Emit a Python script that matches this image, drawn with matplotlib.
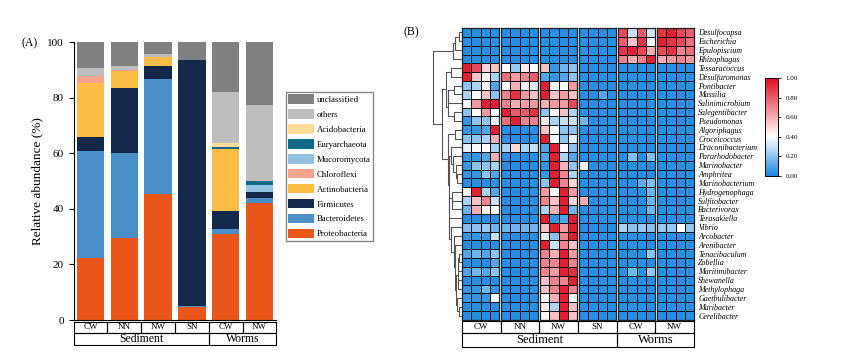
import numpy as np
import matplotlib
matplotlib.use("Agg")
import matplotlib.pyplot as plt
from matplotlib.colors import LinearSegmentedColormap
from matplotlib.patches import Rectangle, Patch

plt.rcParams['font.family'] = ['Liberation Serif', 'DejaVu Serif']

W, H = 857, 356

# ---- panel A: phylum level stacked bars ----
samples = ['CW', 'NN', 'NW', 'SN', 'CW', 'NW']
habitats = ['Sediment', 'Worms']
habitat_span = [4, 2]

phyla = ['Proteobacteria', 'Bacteroidetes', 'Firmicutes', 'Actinobacteria', 'Chloroflexi',
         'Mucoromycota', 'Euryarchaeota', 'Acidobacteria', 'others', 'unclassified']
phylum_colors = ['#e8561a', '#4a8fc7', '#13284a', '#fbbd45', '#f4a48a',
                 '#93c1e2', '#0f6b88', '#fcdb98', '#bebebe', '#808080']

proteobacteria = [22.4, 29.4, 45.3, 4.8, 30.8, 42.0]
bacteroidetes = [38.5, 30.6, 41.3, 0.2, 1.8, 2.0]
firmicutes = [4.9, 23.6, 4.9, 88.4, 6.7, 1.9]
actinobacteria = [19.3, 6.1, 3.0, 0.3, 22.1, 0.3]
chloroflexi = [2.8, 0.3, 0.0, 0.0, 0.0, 0.0]
mucoromycota = [0.0, 0.0, 0.0, 0.0, 0.0, 2.3]
euryarchaeota = [0.0, 0.0, 0.0, 0.0, 0.8, 1.5]
acidobacteria = [0.0, 0.0, 0.0, 0.0, 1.3, 0.0]
others = [2.9, 1.4, 1.3, 0.0, 18.4, 27.2]
unclassified = [9.2, 8.6, 4.2, 6.3, 18.1, 22.7]

phylum_values = [proteobacteria, bacteroidetes, firmicutes, actinobacteria, chloroflexi,
                 mucoromycota, euryarchaeota, acidobacteria, others, unclassified]

# ---- panel B: genus heatmap (row-scaled abundance), 4 replicates per sample ----
genera = ['Desulfocapsa', 'Escherichia', 'Epulopiscium', 'Rhizophagus', 'Tessaracoccus',
          'Desulfuromonas', 'Pontibacter', 'Massilia', 'Salinimicrobium', 'Salegentibacter',
          'Pseudomonas', 'Algoriphagus', 'Croceicoccus', 'Draconibacterium', 'Pararhodobacter',
          'Marinobacter', 'Amphritea', 'Marinobacterium', 'Hydrogenophaga', 'Sulfitobacter',
          'Bacterivorax', 'Terasakiella', 'Vibrio', 'Arcobacter', 'Arenibacter',
          'Tenacibaculum', 'Zobellia', 'Maritimibacter', 'Shewanella', 'Methylophaga',
          'Gaetbulibacter', 'Maribacter', 'Cerelibacter']

#              CW sed                   NN sed                   NW sed                   SN sed                   CW worms                 NW worms
genus_rel = [
    [.02, .02, .02, .02,  .02, .02, .02, .02,  .02, .02, .02, .02,  .02, .02, .02, .02,  .85, .30, .80, .32,  .90, .95, .85, .80],
    [.02, .02, .02, .02,  .02, .02, .02, .02,  .02, .02, .02, .02,  .02, .02, .02, .02,  .80, .55, .90, .40,  .95, .90, .85, .75],
    [.02, .02, .02, .02,  .02, .02, .02, .02,  .02, .02, .02, .02,  .02, .02, .02, .02,  .90, .95, .85, .60,  .85, .90, .70, .75],
    [.02, .02, .02, .02,  .02, .02, .02, .02,  .02, .02, .02, .02,  .02, .02, .02, .02,  .70, .60, .70, .95,  .60, .65, .70, .65],
    [.95, .85, .50, .55,  .40, .22, .45, .40,  .55, .05, .15, .20,  .02, .02, .02, .02,  .02, .02, .02, .02,  .02, .02, .02, .02],
    [.95, .55, .40, .25,  .75, .65, .70, .80,  .10, .05, .10, .20,  .02, .02, .02, .02,  .02, .02, .02, .02,  .02, .02, .02, .02],
    [.20, .25, .40, .10,  .40, .60, .40, .35,  .95, .42, .40, .65,  .02, .02, .02, .02,  .02, .02, .02, .02,  .02, .02, .02, .02],
    [.25, .40, .55, .20,  .70, .90, .65, .55,  .95, .55, .65, .55,  .02, .02, .10, .02,  .02, .02, .02, .02,  .02, .02, .02, .02],
    [.40, .65, .95, .95,  .70, .60, .65, .65,  .60, .65, .65, .85,  .02, .02, .02, .02,  .02, .02, .02, .02,  .02, .02, .02, .02],
    [.20, .40, .65, .40,  .95, .80, .80, .90,  .20, .42, .55, .25,  .02, .02, .02, .02,  .02, .02, .02, .02,  .02, .02, .02, .02],
    [.05, .20, .20, .35,  .75, .95, .70, .70,  .45, .25, .30, .30,  .15, .02, .02, .02,  .02, .02, .02, .02,  .02, .02, .02, .02],
    [.05, .05, .10, .95,  .02, .02, .02, .02,  .55, .40, .20, .20,  .02, .02, .02, .02,  .02, .02, .02, .02,  .02, .02, .02, .02],
    [.20, .20, .25, .60,  .02, .02, .02, .02,  .95, .40, .20, .35,  .02, .02, .02, .02,  .02, .02, .02, .02,  .02, .02, .02, .02],
    [.35, .42, .40, .25,  .25, .50, .25, .30,  .10, .95, .40, .20,  .02, .02, .02, .02,  .02, .02, .02, .02,  .02, .02, .02, .02],
    [.05, .05, .10, .60,  .02, .02, .02, .02,  .10, .95, .25, .10,  .02, .02, .02, .02,  .02, .18, .02, .18,  .02, .02, .02, .02],
    [.05, .20, .20, .25,  .02, .02, .02, .02,  .05, .95, .60, .20,  .40, .02, .02, .02,  .02, .02, .02, .02,  .02, .02, .02, .02],
    [.05, .05, .20, .10,  .02, .02, .02, .02,  .05, .95, .70, .25,  .02, .02, .02, .02,  .02, .02, .02, .02,  .02, .02, .02, .02],
    [.02, .02, .02, .02,  .02, .02, .02, .02,  .20, .95, .70, .50,  .02, .02, .02, .02,  .02, .02, .12, .18,  .02, .02, .02, .02],
    [.40, .95, .25, .10,  .02, .02, .02, .02,  .65, .42, .95, .65,  .02, .02, .02, .02,  .02, .02, .02, .15,  .02, .02, .02, .02],
    [.25, .55, .70, .30,  .02, .02, .02, .02,  .70, .55, .95, .50,  .60, .02, .02, .02,  .02, .02, .02, .15,  .02, .02, .02, .02],
    [.15, .60, .42, .40,  .02, .02, .02, .02,  .25, .60, .95, .15,  .02, .02, .02, .02,  .02, .02, .02, .15,  .02, .02, .02, .02],
    [.02, .02, .02, .02,  .02, .02, .02, .02,  .95, .05, .10, .95,  .02, .02, .02, .02,  .02, .02, .02, .02,  .02, .02, .02, .02],
    [.18, .20, .22, .15,  .15, .15, .15, .15,  .55, .95, .65, .95,  .02, .02, .02, .02,  .25, .20, .22, .20,  .22, .22, .40, .22],
    [.05, .05, .05, .30,  .02, .02, .02, .02,  .35, .20, .70, .95,  .02, .02, .02, .02,  .02, .02, .02, .02,  .02, .02, .02, .02],
    [.02, .02, .02, .02,  .02, .02, .02, .02,  .95, .30, .70, .55,  .02, .02, .02, .02,  .02, .02, .02, .02,  .02, .02, .02, .02],
    [.10, .15, .10, .20,  .02, .02, .02, .02,  .70, .60, .95, .65,  .02, .02, .02, .02,  .02, .02, .02, .20,  .02, .02, .02, .02],
    [.02, .02, .02, .10,  .02, .02, .02, .02,  .70, .70, .95, .70,  .02, .02, .02, .02,  .02, .02, .02, .02,  .02, .02, .02, .02],
    [.10, .15, .10, .20,  .02, .02, .02, .02,  .70, .65, .95, .90,  .02, .02, .02, .02,  .02, .15, .02, .22,  .02, .02, .02, .02],
    [.02, .02, .02, .02,  .02, .02, .02, .02,  .55, .70, .70, .95,  .02, .02, .02, .02,  .02, .02, .02, .02,  .02, .02, .02, .02],
    [.05, .05, .15, .05,  .02, .02, .02, .02,  .55, .70, .95, .70,  .02, .02, .02, .02,  .02, .02, .02, .02,  .02, .02, .02, .02],
    [.05, .05, .05, .40,  .02, .02, .02, .02,  .40, .60, .95, .40,  .02, .02, .02, .02,  .02, .02, .02, .02,  .02, .02, .02, .02],
    [.02, .02, .02, .02,  .02, .02, .02, .02,  .45, .25, .95, .55,  .02, .02, .02, .02,  .02, .02, .02, .02,  .02, .02, .02, .02],
    [.02, .02, .02, .02,  .02, .02, .02, .02,  .42, .55, .95, .55,  .02, .02, .02, .02,  .02, .02, .02, .02,  .02, .02, .02, .02],
]
reps = 4

heat_cmap = LinearSegmentedColormap.from_list(
    'bwr_custom', [(0.0, '#1b88e3'), (0.4, '#ffffff'), (1.0, '#e00b1f')])


def px_axes(fig, x0, y0, x1, y1):
    # axes placed by pixel box (top-left origin), like the reference layout
    return fig.add_axes([x0 / W, 1 - y1 / H, (x1 - x0) / W, (y1 - y0) / H])


def label_boxes(ax, rows):
    # rows: list of (names, spans, y0, height, fontsize)
    for names, spans, y0, h, fs in rows:
        x = 0
        for name, s in zip(names, spans):
            ax.add_patch(Rectangle((x, y0), s, h, fill=False, lw=0.8, ec='k', clip_on=False))
            ax.text(x + s / 2, y0 + h / 2, name, ha='center', va='center', fontsize=fs)
            x += s
    ax.set_axis_off()


def ordered_linkage(mat):
    # average-linkage clustering, only neighbouring clusters are joined so the row order stays
    clusters = [dict(rows=[i], y=i + 0.5, h=0.0) for i in range(len(mat))]
    segs = []
    while len(clusters) > 1:
        best = None
        for k in range(len(clusters) - 1):
            a, b = clusters[k], clusters[k + 1]
            d = np.mean([np.linalg.norm(mat[i] - mat[j]) for i in a['rows'] for j in b['rows']])
            if best is None or d < best[0]:
                best = (d, k)
        d, k = best
        a, b = clusters[k], clusters[k + 1]
        h = max(d, a['h'], b['h'])
        segs.append(([a['h'], h, h, b['h']], [a['y'], a['y'], b['y'], b['y']]))
        clusters[k:k + 2] = [dict(rows=a['rows'] + b['rows'], y=(a['y'] + b['y']) / 2, h=h)]
    return segs, clusters[0]['h']


fig = plt.figure(figsize=(W / 100, H / 100), dpi=100)

# ---------------- (A) ----------------
axA = px_axes(fig, 73.6, 42, 276.4, 320)
x = np.arange(len(samples))
bottom = np.zeros(len(samples))
for name, vals, col in zip(phyla, phylum_values, phylum_colors):
    axA.bar(x, vals, width=0.81, bottom=bottom, color=col, label=name, linewidth=0)
    bottom += np.array(vals)
axA.set_xlim(-0.5, 5.5)
axA.set_ylim(0, 100)
axA.set_xticks([])
axA.set_yticks([0, 20, 40, 60, 80, 100])
axA.tick_params(axis='y', labelsize=8, length=3.5, width=0.8, direction='out')
for s in ['top', 'right']:
    axA.spines[s].set_visible(False)
axA.spines['left'].set_linewidth(0.8)
axA.spines['bottom'].set_linewidth(0.8)
axA.set_ylabel('Relative abundance (%)', fontsize=9.5, labelpad=3)
fig.text(22 / W, 1 - 43 / H, '(A)', fontsize=8.5, va='center')

handles = [Patch(facecolor=c, edgecolor='none') for c in phylum_colors[::-1]]
fig.legend(handles, phyla[::-1], loc='upper left', bbox_to_anchor=(286 / W, 1 - 92 / H),
           fontsize=6.3, frameon=True, fancybox=False, edgecolor='#888888', framealpha=1,
           handlelength=3.0, handleheight=1.3, labelspacing=0.6, handletextpad=0.3,
           borderpad=0.25, borderaxespad=0)

boxA = px_axes(fig, 73.6, 321.5, 276.4, 344.5)
boxA.set_xlim(0, 6)
boxA.set_ylim(2, 0)
label_boxes(boxA, [(samples, [1] * 6, 0, 1, 6.5), (habitats, habitat_span, 1, 1, 8.5)])

# ---------------- (B) ----------------
fig.text(403 / W, 1 - 32 / H, '(B)', fontsize=8.5, va='center')
mat = np.array(genus_rel)
nrow = len(genera)
top_px, bot_px = 28, 320

for g in range(len(samples)):
    ax = px_axes(fig, 462 + 39 * g, top_px, 499 + 39 * g, bot_px)
    block = mat[:, g * reps:(g + 1) * reps]
    ax.pcolormesh(block, cmap=heat_cmap, vmin=0, vmax=1, edgecolors='#111111', linewidth=0.7)
    ax.set_xlim(0, reps)
    ax.set_ylim(nrow, 0)
    ax.set_xticks([])
    ax.set_yticks([])
    for s in ax.spines.values():
        s.set_linewidth(0.9)
        s.set_color('#222222')
    if g == len(samples) - 1:
        ax.yaxis.tick_right()
        ax.set_yticks(np.arange(nrow) + 0.5)
        ax.set_yticklabels(genera, fontsize=5.8, fontstyle='italic')
        ax.tick_params(axis='y', length=0, pad=3)

# dendrogram of rows
axD = px_axes(fig, 432, top_px, 462, bot_px)
segs, hmax = ordered_linkage(mat)
for xs, ys in segs:
    axD.plot(xs, ys, color='#555555', lw=0.8, solid_capstyle='butt')
axD.set_xlim(hmax * 1.02, 0)
axD.set_ylim(nrow, 0)
axD.set_axis_off()

# colour bar
axC = px_axes(fig, 765, 78, 778, 176)
sm = plt.cm.ScalarMappable(cmap=heat_cmap, norm=plt.Normalize(0, 1))
cb = fig.colorbar(sm, cax=axC, ticks=[0, 0.2, 0.4, 0.6, 0.8, 1.0])
cb.ax.set_yticklabels(['0.00', '0.20', '0.40', '0.60', '0.80', '1.00'])
cb.ax.tick_params(labelsize=5, length=2, width=0.6)
cb.outline.set_linewidth(0.7)

boxB = px_axes(fig, 462, 321, 694, 347)
boxB.set_xlim(0, 6)
boxB.set_ylim(2.2, 0)
label_boxes(boxB, [(samples, [1] * 6, 0, 1, 6.5), (habitats, habitat_span, 1, 1.2, 9)])

fig.savefig('out.png', dpi=100)
